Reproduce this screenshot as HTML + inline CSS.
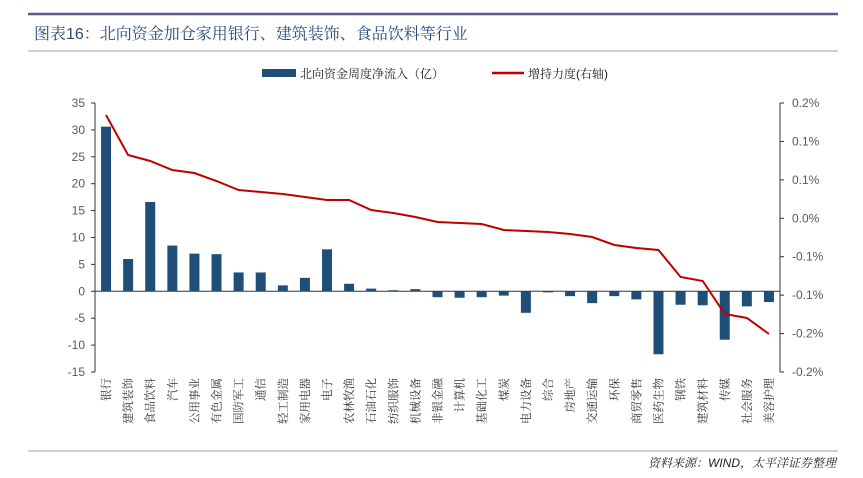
<!DOCTYPE html><html><head><meta charset="utf-8"><style>body{margin:0;background:#fff}svg{display:block}</style></head><body>
<svg width="863" height="478" xmlns="http://www.w3.org/2000/svg" font-family="'Liberation Sans','Noto Serif CJK SC','Noto Sans CJK SC',sans-serif">
<line x1="28" y1="14" x2="838" y2="14" stroke="#5b5b8a" stroke-width="2.5"/>
<text x="34" y="39" font-size="16" fill="#2a4a7a">图表16：北向资金加仓家用银行、建筑装饰、食品饮料等行业</text>
<line x1="28" y1="51" x2="838" y2="51" stroke="#9b9bb8" stroke-width="1"/>
<rect x="262" y="69" width="34" height="8" fill="#1f4e79"/>
<text x="300" y="78" font-size="12" fill="#222">北向资金周度净流入（亿）</text>
<line x1="492" y1="73" x2="524" y2="73" stroke="#c00000" stroke-width="2.5"/>
<text x="528" y="78" font-size="12" fill="#222">增持力度(右轴)</text>
<line x1="95" y1="103" x2="95" y2="372" stroke="#333"/>
<line x1="780" y1="103" x2="780" y2="372" stroke="#333"/>
<line x1="28" y1="451" x2="838" y2="451" stroke="#9b9bb8"/>
<text x="836" y="467" font-size="12" font-style="italic" text-anchor="end" fill="#222">资料来源：WIND，太平洋证券整理</text>
<script>
var ns="http://www.w3.org/2000/svg",svg=document.querySelector('svg');
function el(t,a,txt){var e=document.createElementNS(ns,t);for(var k in a)e.setAttribute(k,a[k]);if(txt!=null)e.textContent=txt;svg.appendChild(e);return e;}
for(var i=0;i<=10;i++){var v=35-5*i,y=103+i*26.9;el('text',{x:85,y:y+4,'font-size':12,'text-anchor':'end',fill:'#595959'},v);el('line',{x1:91,y1:y,x2:95,y2:y,stroke:'#333'});}
var rl=['0.2%','0.1%','0.1%','0.0%','-0.1%','-0.1%','-0.2%','-0.2%'];
for(var i=0;i<8;i++){var y=103+i*38.43;el('text',{x:792,y:y+4,'font-size':12,fill:'#595959'},rl[i]);el('line',{x1:780,y1:y,x2:784,y2:y,stroke:'#333'});}
var z=291.3;el('line',{x1:95,y1:z,x2:780,y2:z,stroke:'#333'});
var names=['银行','建筑装饰','食品饮料','汽车','公用事业','有色金属','国防军工','通信','轻工制造','家用电器','电子','农林牧渔','石油石化','纺织服饰','机械设备','非银金融','计算机','基础化工','煤炭','电力设备','综合','房地产','交通运输','环保','商贸零售','医药生物','钢铁','建筑材料','传媒','社会服务','美容护理'];
var vals=[30.6,6,16.6,8.5,7,6.9,3.5,3.5,1.1,2.5,7.8,1.4,0.5,0.2,0.4,-1.1,-1.2,-1.1,-0.8,-4,-0.2,-0.9,-2.2,-0.9,-1.5,-11.7,-2.5,-2.6,-9,-2.8,-2];
var ly=[115,155,161,170,173,181,190,192,194,197,200,200,210,213,217,222,223,224,230,231,232,234,237,245,248,250,277,281,314,318,334];
var w=685/31,pts=[];
for(var i=0;i<31;i++){var cx=95+w*(i+0.5),h=vals[i]*26.9/5;
el('rect',{x:cx-5,y:h>0?z-h:z,width:10,height:Math.abs(h),fill:'#1f4e79'});
pts.push(cx.toFixed(1)+','+ly[i]);
el('text',{transform:'translate('+(cx+4)+',378) rotate(-90)','text-anchor':'end','font-size':11.5,fill:'#333'},names[i]);}
el('polyline',{points:pts.join(' '),fill:'none',stroke:'#c00000','stroke-width':2});
</script>
</svg></body></html>
